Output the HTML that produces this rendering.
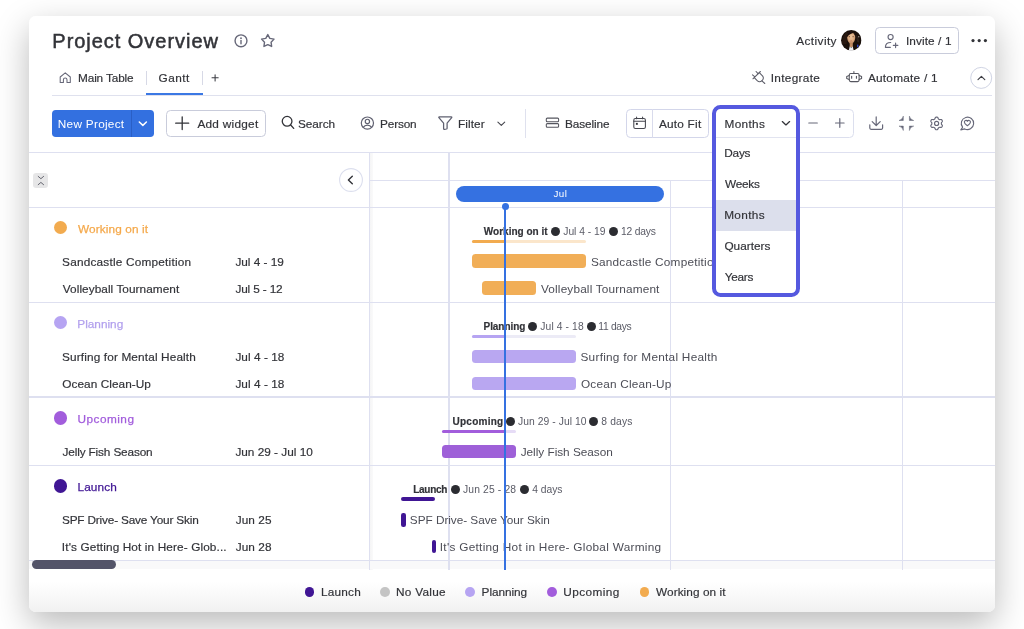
<!DOCTYPE html>
<html lang="en">
<head>
<meta charset="utf-8">
<title>Project Overview - Gantt</title>
<style>
*{box-sizing:border-box;margin:0;padding:0}
html,body{width:1024px;height:629px;overflow:hidden;background:#fff}
body{position:relative;font-family:"Liberation Sans",sans-serif;color:#323338}
.abs{position:absolute}
.card{position:absolute;left:29px;top:16px;width:966px;height:595.6px;border-radius:7px;background:linear-gradient(to bottom,#fff 0,#fff 566px,#f1f1f1 100%);box-shadow:0 12px 34px rgba(0,0,0,.275)}
.t{position:absolute;height:20px;line-height:20px;white-space:nowrap;font-size:12px;-webkit-text-stroke:.18px currentColor}
.hl{position:absolute;height:1.3px;background:#dee0f0}
.vl{position:absolute;width:1.3px;background:#dee0f0}
svg{position:absolute;overflow:visible}
.ic{fill:none;stroke:#676879;stroke-width:1.15;stroke-linecap:round;stroke-linejoin:round}
.icd{fill:none;stroke:#323338;stroke-width:1.3;stroke-linecap:round;stroke-linejoin:round}
.dot{position:absolute;border-radius:50%}
.bar{position:absolute;border-radius:3.5px}
.ul{position:absolute;height:3.3px;border-radius:2px}
.sep{position:absolute;width:1px;background:#d7d9e6}
</style>
</head>
<body>
<div class="card"></div>

<!-- ===== header ===== -->
<svg style="left:0;top:0" width="1024" height="160" viewBox="0 0 1024 160">
  <!-- info -->
  <circle class="ic" style="stroke-width:1.4" cx="241" cy="40.8" r="5.95"/>
  <path class="ic" style="stroke-width:1.4" d="M241 40.4v3.4"/>
  <circle cx="241" cy="38.2" r=".9" fill="#676879"/>
  <!-- star -->
  <path class="ic" style="stroke-width:1.4" d="M267.80 34.60L269.83 38.36L274.03 39.13L271.08 42.22L271.65 46.45L267.80 44.60L263.95 46.45L264.52 42.22L261.57 39.13L265.77 38.36z"/>
  <!-- home -->
  <path class="ic" style="stroke-width:1.05" d="M60.2 77v5.4h3.2v-2.6a1.8 1.8 0 0 1 3.6 0v2.6h3.3V77l-5.05-4.1z"/>
  <!-- tab plus -->
  <path class="icd" style="stroke-width:1.05;stroke:#3c3d44" d="M212 77.8h6.2M215.1 74.7v6.2"/>
  <!-- invite icon -->
  <circle class="ic" cx="890.6" cy="37" r="2.55"/>
  <path class="ic" d="M890.4 47.3h-5c0-3 2.2-4.8 5.3-4.8M895.6 43v4.6M893.3 45.3h4.6"/>
  <!-- more dots -->
  <circle cx="973" cy="40.6" r="1.6" fill="#323338"/><circle cx="979.2" cy="40.6" r="1.6" fill="#323338"/><circle cx="985.4" cy="40.6" r="1.6" fill="#323338"/>
  <!-- integrate (plug) -->
  <g class="ic" style="stroke-width:1.05;stroke:#5c5d68">
    <path d="M752.9 78.8L760.4 71.5"/>
    <path d="M759.3 72.7L762.7 76.1Q764.3 78.5 762 80.7Q759.5 82.9 757.2 80.7L754.3 77.6"/>
    <path d="M761.9 80.8l2.9 2.7M758 73.6l-1.9-2.1M754.6 76.7l-2.1-1.8"/>
  </g>
  <!-- automate (robot) -->
  <g class="ic" style="stroke-width:1.05;stroke:#55565f">
    <rect x="849.25" y="73.45" width="9.85" height="8.15" rx="1.5"/>
    <path d="M853.9 71.5v1.9M849.2 75.4l-2.5 1v2.2l2.5 1M859.1 75.4l2.5 1v2.2l-2.5 1"/>
    <path d="M851.65 76.2v2.1M856.45 76.2v2.1" stroke-width="1.15"/>
  </g>
  <!-- collapse circle -->
  <circle cx="981.2" cy="77.9" r="10.5" fill="#fff" stroke="#d0d4e4" stroke-width="1"/>
  <path class="icd" style="stroke-width:1.15;stroke:#3e3f46" d="M978 79.7l3.4-3.3 3.4 3.3"/>
  <!-- New Project chevron -->
</svg>

<!-- avatar -->
<svg style="left:840.9px;top:30.4px" width="20.5" height="20.5" viewBox="0 0 20.5 20.5">
  <defs>
    <clipPath id="avc"><circle cx="10.25" cy="10.25" r="10.2"/></clipPath>
    <filter id="avb" x="-20%" y="-20%" width="140%" height="140%"><feGaussianBlur stdDeviation=".45"/></filter>
    <radialGradient id="avs" cx="50%" cy="42%" r="60%"><stop offset="0" stop-color="#ecc39b"/><stop offset=".6" stop-color="#dcab80"/><stop offset="1" stop-color="#b07a55"/></radialGradient>
  </defs>
  <g clip-path="url(#avc)">
    <rect width="20.5" height="20.5" fill="#190f0a"/>
    <g filter="url(#avb)">
      <path d="M1 14C1.500 6 4 2.500 6.500 2L5.500 14z" fill="#3a2515" opacity=".5"/>
      <path d="M15 4.500c2 1.500 3 4.500 3 8l-2-1z" fill="#4a3a30" opacity=".4"/>
      <rect x="8.700" y="12" width="3.100" height="5" fill="#c08a62"/>
      <path d="M7.600 21l1.100-4.600 1.500 1.300 1.500-1.300 1.100 4.600z" fill="#eceef3"/>
      <path d="M10.200 1.700c2.600 0 4.100 2.200 4.100 5.300 0 3.400-1.900 6.800-4.100 6.800s-4.100-3.400-4.100-6.800c0-3.100 1.500-5.300 4.100-5.300z" fill="url(#avs)"/>
      <path d="M5.800 7.500c0-4 1.700-6.300 4.400-6.300s4.400 2.300 4.400 6.300c-.5-2.300-1.500-4-2.600-4.600-1 .6-4.200 1.300-6.200 4.600z" fill="#1b100a"/>
      <ellipse cx="8.300" cy="6.700" rx=".8" ry=".45" fill="#4a2e20"/>
      <ellipse cx="12.100" cy="6.700" rx=".8" ry=".45" fill="#4a2e20"/>
      <ellipse cx="10.200" cy="10.900" rx="1.300" ry=".45" fill="#b5634f"/>
      <rect x="16.100" y="14.600" width="1.300" height="2.700" rx=".5" fill="#2f46d6"/>
      <circle cx="17.700" cy="6.800" r=".7" fill="#9a8f86"/>
    </g>
  </g>
</svg>

<!-- invite button -->
<div class="abs" style="left:875.4px;top:27.3px;width:83.3px;height:26.8px;border:1px solid #c9ccdb;border-radius:4.5px"></div>

<!-- tabs line -->
<div class="hl" style="left:52px;top:94.5px;width:940px;height:1.2px;background:#dfe1ee"></div>
<div class="abs" style="left:146.3px;top:92.5px;width:56.4px;height:2.3px;background:#3b78e4"></div>
<div class="sep" style="left:146.3px;top:71.2px;height:13.6px"></div>
<div class="sep" style="left:202.2px;top:71.2px;height:13.6px"></div>

<!-- ===== toolbar ===== -->
<div class="abs" style="left:52px;top:109.9px;width:102px;height:26.7px;border-radius:3.8px;background:#3370e0"></div>
<div class="abs" style="left:130.6px;top:109.9px;width:1px;height:26.7px;background:#2a5fc6"></div>
<div class="abs" style="left:166px;top:109.9px;width:99.8px;height:26.7px;border:1px solid #c9ccdb;border-radius:4.5px"></div>
<div class="abs" style="left:524.6px;top:109px;width:1.1px;height:28.5px;background:#dfe1ee"></div>
<!-- auto fit box -->
<div class="abs" style="left:626.3px;top:108.9px;width:82.9px;height:28.8px;border:1px solid #d3d6ea;border-radius:4.5px"></div>
<div class="abs" style="left:652.4px;top:109px;width:1px;height:28.5px;background:#d9dbec"></div>
<!-- zoom box -->
<div class="abs" style="left:712px;top:108.9px;width:142px;height:28.8px;border:1px solid #dcdfee;border-radius:4.5px"></div>

<svg style="left:0;top:100px" width="1024" height="45" viewBox="0 100 1024 45">
  <path d="M139.3 122l3.55 3.4 3.55-3.4" fill="none" stroke="#fff" stroke-width="1.5" stroke-linecap="round" stroke-linejoin="round"/>
  <path class="icd" style="stroke-width:1.3" d="M175.7 123.2h13M182.2 116.8v12.8"/>
  <!-- search -->
  <circle class="icd" style="stroke-width:1.3" cx="287.1" cy="121.3" r="4.85"/>
  <path class="icd" style="stroke-width:1.3" d="M290.7 125l3 3.4"/>
  <!-- person -->
  <g class="ic" style="stroke-width:1.2;stroke:#5f6070"><circle cx="367.4" cy="123.1" r="6.1"/><circle cx="367.4" cy="121.4" r="2.15"/><path d="M363.2 127.4c1-1.6 2.5-2.3 4.2-2.3s3.2.7 4.2 2.3"/></g>
  <!-- filter -->
  <path class="ic" style="stroke-width:1.25;stroke:#5f6070" d="M439.2 116.8h12.1c.5 0 .7.5.4.9l-4.6 5.4v5.1c0 .4-.3.7-.7.8l-1.9.4c-.5.1-.9-.2-.9-.7v-5.6l-4.7-5.4c-.3-.4-.1-.9.3-.9z"/>
  <path class="icd" style="stroke-width:1.1;stroke:#44454d" d="M497.9 122.2l3.4 3.2 3.4-3.2"/>
  <!-- baseline -->
  <g class="ic" style="stroke-width:1.05;stroke:#55565f"><rect x="546.3" y="118.1" width="12.3" height="3.7" rx="1"/><rect x="546.3" y="123.6" width="12.3" height="3.7" rx="1"/></g>
  <!-- calendar -->
  <g class="ic" style="stroke-width:1.05;stroke:#45464e"><rect x="633.8" y="118.5" width="11.6" height="10" rx="1.6"/><path d="M633.8 121.2h11.6M636.6 116.9v1.8M642.6 116.9v1.8"/><rect x="635.9" y="122.9" width="1.9" height="1.9" fill="#323338" stroke="none"/></g>
  <!-- minus plus -->
  <path class="ic" style="stroke-width:1.2" d="M808.8 123h8.5M835.5 123h8.6M839.8 118.7v8.6"/>
  <!-- download -->
  <path class="ic" style="stroke-width:1.2" d="M876.2 116.9v8.4M872.2 121.6l4 3.9 4-3.9M869.8 124.8v3.3a1.2 1.2 0 0 0 1.2 1.2h10.4a1.2 1.2 0 0 0 1.2-1.2v-3.3"/>
  <!-- collapse arrows -->
  <g fill="#676879" stroke="#676879" stroke-width=".5" stroke-linejoin="round"><path d="M903.3 116.1V120.5H899Q902.5 119.7 903.3 116.1zM909.4 116.1V120.5H913.7Q910.2 119.7 909.4 116.1zM903.3 130.5V126.1H899Q902.5 126.9 903.3 130.5zM909.4 130.5V126.1H913.7Q910.2 126.9 909.4 130.5z"/></g>
  <!-- gear -->
  <g class="ic" style="stroke-width:1.15"><circle cx="936.6" cy="123.45" r="2.05"/>
  <path d="M936.60 117.12L937.01 117.15L937.42 117.25L937.78 117.52L938.04 118.09L938.23 118.66L938.45 118.97L938.72 119.16L938.99 119.32L939.26 119.47L939.55 119.61L939.93 119.65L940.52 119.53L941.14 119.47L941.56 119.64L941.85 119.94L942.08 120.28L942.27 120.66L942.38 121.06L942.32 121.51L941.96 122.01L941.56 122.46L941.40 122.82L941.37 123.14L941.37 123.45L941.37 123.76L941.40 124.08L941.56 124.44L941.96 124.89L942.32 125.39L942.38 125.84L942.27 126.24L942.08 126.61L941.85 126.96L941.56 127.26L941.14 127.43L940.52 127.37L939.93 127.25L939.55 127.29L939.26 127.43L938.99 127.58L938.72 127.74L938.45 127.93L938.23 128.24L938.04 128.81L937.78 129.38L937.42 129.65L937.01 129.75L936.60 129.78L936.19 129.75L935.78 129.65L935.42 129.38L935.16 128.81L934.97 128.24L934.75 127.93L934.48 127.74L934.22 127.58L933.94 127.43L933.65 127.29L933.27 127.25L932.68 127.37L932.06 127.43L931.64 127.26L931.35 126.96L931.12 126.62L930.93 126.24L930.82 125.84L930.88 125.39L931.24 124.89L931.64 124.44L931.80 124.08L931.83 123.76L931.83 123.45L931.83 123.14L931.80 122.82L931.64 122.46L931.24 122.01L930.88 121.51L930.82 121.06L930.93 120.66L931.12 120.28L931.35 119.94L931.64 119.64L932.06 119.47L932.68 119.53L933.27 119.65L933.65 119.61L933.94 119.47L934.22 119.32L934.48 119.16L934.75 118.97L934.97 118.66L935.16 118.09L935.42 117.52L935.78 117.25L936.19 117.15z"/></g>
  <!-- chat heart -->
  <g class="ic" style="stroke-width:1.1"><path d="M962.6 127.2a6.2 6.2 0 1 1 2.1 1.7l-3.9 1z"/><path d="M967.4 125.8c-1.6-1.1-3.1-2.2-3.1-3.7a1.65 1.65 0 0 1 3.1-.8 1.65 1.65 0 0 1 3.1.8c0 1.5-1.500 2.600-3.100 3.700z"/></g>
</svg>

<!-- ===== grid ===== -->
<div class="abs" style="left:369.8px;top:152.5px;width:3.6px;height:417px;background:linear-gradient(to right,#f5f5f6,#fafafa)"></div>
<div class="hl" style="left:29px;top:151.95px;width:966px"></div>
<div class="hl" style="left:369px;top:179.7px;width:626px"></div>
<div class="hl" style="left:29px;top:206.65px;width:966px"></div>
<div class="hl" style="left:29px;top:301.65px;width:966px"></div>
<div class="hl" style="left:29px;top:396.3px;width:966px"></div>
<div class="hl" style="left:29px;top:464.75px;width:966px"></div>
<div class="abs" style="left:29px;top:560.2px;width:966px;height:9.3px;background:#f9f9fa"></div>
<div class="hl" style="left:29px;top:559.6px;width:966px"></div>
<div class="vl" style="left:368.7px;top:152px;height:417.5px"></div>
<div class="vl" style="left:448.4px;top:152px;height:417.5px"></div>
<div class="vl" style="left:670.1px;top:180px;height:389.5px"></div>
<div class="vl" style="left:902.1px;top:180px;height:389.5px"></div>
<!-- scrollbar -->
<div class="abs" style="left:32.3px;top:560.2px;width:83.7px;height:9.3px;border-radius:5px;background:#535469"></div>

<!-- collapse-all -->
<div class="abs" style="left:33.4px;top:172.7px;width:15px;height:15.2px;border-radius:3.2px;background:#e6e6e7"></div>
<svg style="left:30px;top:170px" width="24" height="22" viewBox="30 170 24 22"><path class="ic" style="stroke-width:.95;stroke:#5c5d67" d="M38.2 176.4l2.7 2.3 2.7-2.3M38.2 184.7l2.7-2.3 2.7 2.3"/></svg>
<!-- hide panel circle -->
<svg style="left:335px;top:165px" width="32" height="30" viewBox="335 165 32 30"><circle cx="351" cy="180" r="11.4" fill="#fff" stroke="#dcdfee" stroke-width="1.1"/><path class="icd" style="stroke-width:1.4" d="M352.3 176.2l-3.9 3.8 3.9 3.8"/></svg>

<!-- group dots -->
<div class="dot" style="left:53.6px;top:220.90px;width:13.6px;height:13.6px;background:#f2ab4f"></div>
<div class="dot" style="left:53.6px;top:315.90px;width:13.6px;height:13.6px;background:#b6a4f2"></div>
<div class="dot" style="left:53.6px;top:411.10px;width:13.6px;height:13.6px;background:#a25ddc"></div>
<div class="dot" style="left:53.6px;top:479.00px;width:13.6px;height:13.6px;background:#401694"></div>

<!-- ===== gantt ===== -->
<div class="abs" style="left:455.8px;top:186.2px;width:208px;height:15.4px;border-radius:8px;background:#3571e1"></div>
<!-- working on it -->
<div class="ul" style="left:472px;top:239.5px;width:114.3px;background:#fbe6cb"></div>
<div class="ul" style="left:472px;top:239.5px;width:34px;background:#f2ab4f"></div>
<div class="bar" style="left:472px;top:254.35px;width:114.3px;height:13.8px;background:#f1ae57"></div>
<div class="bar" style="left:482px;top:281.35px;width:53.8px;height:13.8px;background:#f1ae57"></div>
<div class="dot" style="left:551px;top:227.3px;width:9.1px;height:9.1px;background:#2b2c31"></div>
<div class="dot" style="left:609.2px;top:227.3px;width:9.1px;height:9.1px;background:#2b2c31"></div>
<!-- planning -->
<div class="ul" style="left:472px;top:334.6px;width:104px;background:#ecebf6"></div>
<div class="ul" style="left:472px;top:334.6px;width:34px;background:#b6a4f2"></div>
<div class="bar" style="left:472px;top:349.65px;width:104px;height:13.8px;background:#b9a7f1"></div>
<div class="bar" style="left:472px;top:376.65px;width:104px;height:13.8px;background:#b9a7f1"></div>
<div class="dot" style="left:528.2px;top:322.4px;width:9.1px;height:9.1px;background:#2b2c31"></div>
<div class="dot" style="left:586.6px;top:322.4px;width:9.1px;height:9.1px;background:#2b2c31"></div>
<!-- upcoming -->
<div class="ul" style="left:441.5px;top:429.6px;width:74.2px;background:#e6dcf6"></div>
<div class="ul" style="left:441.5px;top:429.6px;width:64.5px;background:#a25ddc"></div>
<div class="bar" style="left:441.5px;top:444.65px;width:74.2px;height:13.8px;background:#9e60d8"></div>
<div class="dot" style="left:506.2px;top:417.4px;width:9.1px;height:9.1px;background:#2b2c31"></div>
<div class="dot" style="left:589.4px;top:417.4px;width:9.1px;height:9.1px;background:#2b2c31"></div>
<!-- launch -->
<div class="ul" style="left:401.4px;top:497.3px;width:33.6px;background:#401694"></div>
<div class="bar" style="left:401.4px;top:512.85px;width:4.4px;height:13.8px;border-radius:2.2px;background:#401694"></div>
<div class="bar" style="left:431.9px;top:539.65px;width:4.4px;height:13.8px;border-radius:2.2px;background:#401694"></div>
<div class="dot" style="left:451px;top:485px;width:9.1px;height:9.1px;background:#2b2c31"></div>
<div class="dot" style="left:519.6px;top:485px;width:9.1px;height:9.1px;background:#2b2c31"></div>

<span class="t" style="left:553.39px;top:184.00px;font-size:9.8px;color:#ffffff;letter-spacing:0.483px;-webkit-text-stroke:0;">Jul</span>
<span class="t" style="left:483.81px;top:222.40px;font-size:10px;color:#323338;font-weight:700;letter-spacing:0.005px;">Working on it</span>
<span class="t" style="left:563.30px;top:222.40px;font-size:10.3px;color:#5a5b66;letter-spacing:-0.030px;-webkit-text-stroke:0;">Jul 4 - 19</span>
<span class="t" style="left:621.12px;top:222.40px;font-size:10.3px;color:#5a5b66;letter-spacing:-0.213px;-webkit-text-stroke:0;">12 days</span>
<span class="t" style="left:590.90px;top:251.60px;font-size:11.8px;color:#4c4d56;letter-spacing:0.229px;-webkit-text-stroke:0;">Sandcastle Competition</span>
<span class="t" style="left:540.99px;top:278.50px;font-size:11.8px;color:#4c4d56;letter-spacing:0.160px;-webkit-text-stroke:0;">Volleyball Tournament</span>
<span class="t" style="left:483.56px;top:317.40px;font-size:10px;color:#323338;font-weight:700;letter-spacing:-0.066px;">Planning</span>
<span class="t" style="left:540.33px;top:317.40px;font-size:10.3px;color:#5a5b66;letter-spacing:0.103px;-webkit-text-stroke:0;">Jul 4 - 18</span>
<span class="t" style="left:598.37px;top:317.40px;font-size:10.3px;color:#5a5b66;letter-spacing:-0.335px;-webkit-text-stroke:0;">11 days</span>
<span class="t" style="left:580.49px;top:346.50px;font-size:11.8px;color:#4c4d56;letter-spacing:0.262px;-webkit-text-stroke:0;">Surfing for Mental Health</span>
<span class="t" style="left:580.94px;top:373.60px;font-size:11.8px;color:#4c4d56;letter-spacing:0.198px;-webkit-text-stroke:0;">Ocean Clean-Up</span>
<span class="t" style="left:452.55px;top:412.30px;font-size:10px;color:#323338;font-weight:700;letter-spacing:0.243px;">Upcoming</span>
<span class="t" style="left:518.08px;top:412.30px;font-size:10.3px;color:#5a5b66;letter-spacing:0.068px;-webkit-text-stroke:0;">Jun 29 - Jul 10</span>
<span class="t" style="left:601.36px;top:412.30px;font-size:10.3px;color:#5a5b66;letter-spacing:0.147px;-webkit-text-stroke:0;">8 days</span>
<span class="t" style="left:520.69px;top:441.50px;font-size:11.8px;color:#4c4d56;letter-spacing:-0.020px;-webkit-text-stroke:0;">Jelly Fish Season</span>
<span class="t" style="left:413.24px;top:480.00px;font-size:10px;color:#323338;font-weight:700;letter-spacing:-0.275px;">Launch</span>
<span class="t" style="left:463.07px;top:480.00px;font-size:10.3px;color:#5a5b66;letter-spacing:0.144px;-webkit-text-stroke:0;">Jun 25 - 28</span>
<span class="t" style="left:532.25px;top:480.00px;font-size:10.3px;color:#5a5b66;letter-spacing:-0.017px;-webkit-text-stroke:0;">4 days</span>
<span class="t" style="left:409.86px;top:509.60px;font-size:11.8px;color:#4c4d56;letter-spacing:-0.044px;-webkit-text-stroke:0;">SPF Drive- Save Your Skin</span>
<span class="t" style="left:439.82px;top:536.60px;font-size:11.8px;color:#4c4d56;letter-spacing:0.282px;-webkit-text-stroke:0;">It's Getting Hot in Here- Global Warming</span>

<!-- today line -->
<div class="abs" style="left:504.4px;top:206px;width:2px;height:363.5px;background:#3571e1"></div>
<div class="dot" style="left:501.9px;top:203.3px;width:7px;height:7px;background:#3571e1"></div>

<!-- legend dots -->
<div class="dot" style="left:304.7px;top:587.1px;width:9.8px;height:9.8px;background:#401694"></div>
<div class="dot" style="left:380.1px;top:587.1px;width:9.8px;height:9.8px;background:#c4c4c4"></div>
<div class="dot" style="left:465.1px;top:587.1px;width:9.8px;height:9.8px;background:#b6a4f2"></div>
<div class="dot" style="left:547.2px;top:587.1px;width:9.8px;height:9.8px;background:#a25ddc"></div>
<div class="dot" style="left:639.6px;top:587.1px;width:9.8px;height:9.8px;background:#f2ab4f"></div>

<!-- ===== dropdown ===== -->
<div class="abs" style="left:712px;top:104.7px;width:87.7px;height:192.6px;border:4px solid #5559df;border-radius:8.5px;background:#fff"></div>
<div class="abs" style="left:716px;top:136.7px;width:79.7px;height:1.1px;background:#e2e4f0"></div>
<div class="abs" style="left:716px;top:199.8px;width:79.7px;height:30.8px;background:#dcdfec"></div>

<svg style="left:776px;top:116px" width="20" height="14" viewBox="776 116 20 14"><path class="icd" style="stroke-width:1.3" d="M782.3 121.6l3.65 3.3 3.65-3.3"/></svg>
<span class="t" style="left:52.35px;top:30.90px;font-size:20px;color:#323338;letter-spacing:0.963px;-webkit-text-stroke:0.5px #323338;">Project Overview</span>
<span class="t" style="left:78.06px;top:68.00px;font-size:11.8px;color:#323338;letter-spacing:-0.144px;">Main Table</span>
<span class="t" style="left:158.56px;top:68.00px;font-size:11.8px;color:#323338;letter-spacing:0.462px;">Gantt</span>
<span class="t" style="left:57.83px;top:113.70px;font-size:11.8px;color:#ffffff;letter-spacing:0.273px;-webkit-text-stroke:0;">New Project</span>
<span class="t" style="left:197.39px;top:113.70px;font-size:11.8px;color:#323338;letter-spacing:0.268px;">Add widget</span>
<span class="t" style="left:298.03px;top:113.70px;font-size:11.8px;color:#323338;letter-spacing:-0.044px;">Search</span>
<span class="t" style="left:380.06px;top:113.70px;font-size:11.8px;color:#323338;letter-spacing:-0.155px;">Person</span>
<span class="t" style="left:458.06px;top:113.70px;font-size:11.8px;color:#323338;letter-spacing:0.072px;">Filter</span>
<span class="t" style="left:565.06px;top:113.70px;font-size:11.8px;color:#323338;letter-spacing:-0.113px;">Baseline</span>
<span class="t" style="left:658.92px;top:113.70px;font-size:11.8px;color:#323338;letter-spacing:0.230px;">Auto Fit</span>
<span class="t" style="left:724.55px;top:113.70px;font-size:11.8px;color:#323338;letter-spacing:0.318px;">Months</span>
<span class="t" style="left:796.28px;top:31.00px;font-size:11.8px;color:#323338;letter-spacing:0.412px;">Activity</span>
<span class="t" style="left:905.88px;top:31.00px;font-size:11.8px;color:#323338;letter-spacing:0.109px;">Invite / 1</span>
<span class="t" style="left:770.76px;top:67.70px;font-size:11.8px;color:#323338;letter-spacing:0.319px;">Integrate</span>
<span class="t" style="left:867.92px;top:67.70px;font-size:11.8px;color:#323338;letter-spacing:0.246px;">Automate / 1</span>
<span class="t" style="left:724.29px;top:143.20px;font-size:11.8px;color:#323338;letter-spacing:-0.214px;">Days</span>
<span class="t" style="left:725.02px;top:174.20px;font-size:11.8px;color:#323338;letter-spacing:-0.249px;">Weeks</span>
<span class="t" style="left:724.22px;top:205.20px;font-size:11.8px;color:#323338;letter-spacing:0.324px;">Months</span>
<span class="t" style="left:724.39px;top:236.20px;font-size:11.8px;color:#323338;letter-spacing:0.020px;">Quarters</span>
<span class="t" style="left:724.67px;top:267.20px;font-size:11.8px;color:#323338;letter-spacing:-0.263px;">Years</span>
<span class="t" style="left:78.00px;top:218.90px;font-size:11.8px;color:#f5a94b;letter-spacing:0.124px;-webkit-text-stroke:.25px #f5a94b;">Working on it</span>
<span class="t" style="left:62.10px;top:251.90px;font-size:11.8px;color:#323338;letter-spacing:0.207px;">Sandcastle Competition</span>
<span class="t" style="left:235.39px;top:251.90px;font-size:11.8px;color:#323338;letter-spacing:-0.004px;">Jul 4 - 19</span>
<span class="t" style="left:62.83px;top:278.70px;font-size:11.8px;color:#323338;letter-spacing:0.061px;">Volleyball Tournament</span>
<span class="t" style="left:235.42px;top:278.70px;font-size:11.8px;color:#323338;letter-spacing:-0.144px;">Jul 5 - 12</span>
<span class="t" style="left:77.29px;top:313.90px;font-size:11.8px;color:#b3a1ee;letter-spacing:0.005px;-webkit-text-stroke:.25px #b3a1ee;">Planning</span>
<span class="t" style="left:62.09px;top:346.50px;font-size:11.8px;color:#323338;letter-spacing:0.136px;">Surfing for Mental Health</span>
<span class="t" style="left:235.39px;top:346.50px;font-size:11.8px;color:#323338;letter-spacing:0.055px;">Jul 4 - 18</span>
<span class="t" style="left:62.33px;top:373.60px;font-size:11.8px;color:#323338;letter-spacing:0.053px;">Ocean Clean-Up</span>
<span class="t" style="left:235.39px;top:373.60px;font-size:11.8px;color:#323338;letter-spacing:0.055px;">Jul 4 - 18</span>
<span class="t" style="left:77.46px;top:408.70px;font-size:11.8px;color:#a25ddc;letter-spacing:0.486px;-webkit-text-stroke:.25px #a25ddc;">Upcoming</span>
<span class="t" style="left:62.55px;top:441.50px;font-size:11.8px;color:#323338;letter-spacing:-0.145px;">Jelly Fish Season</span>
<span class="t" style="left:235.39px;top:441.50px;font-size:11.8px;color:#323338;letter-spacing:0.007px;">Jun 29 - Jul 10</span>
<span class="t" style="left:77.46px;top:477.00px;font-size:11.8px;color:#401694;letter-spacing:0.116px;-webkit-text-stroke:.25px #401694;">Launch</span>
<span class="t" style="left:61.99px;top:509.60px;font-size:11.8px;color:#323338;letter-spacing:-0.174px;">SPF Drive- Save Your Skin</span>
<span class="t" style="left:235.67px;top:509.60px;font-size:11.8px;color:#323338;letter-spacing:0.078px;">Jun 25</span>
<span class="t" style="left:61.86px;top:536.60px;font-size:11.8px;color:#323338;letter-spacing:0.120px;">It's Getting Hot in Here- Glob...</span>
<span class="t" style="left:235.67px;top:536.60px;font-size:11.8px;color:#323338;letter-spacing:0.081px;">Jun 28</span>
<span class="t" style="left:321.06px;top:582.00px;font-size:11.8px;color:#323338;letter-spacing:0.205px;">Launch</span>
<span class="t" style="left:396.07px;top:582.00px;font-size:11.8px;color:#323338;letter-spacing:0.269px;">No Value</span>
<span class="t" style="left:481.62px;top:582.00px;font-size:11.8px;color:#323338;letter-spacing:-0.054px;">Planning</span>
<span class="t" style="left:563.22px;top:582.00px;font-size:11.8px;color:#323338;letter-spacing:0.418px;">Upcoming</span>
<span class="t" style="left:656.01px;top:582.00px;font-size:11.8px;color:#323338;letter-spacing:0.078px;">Working on it</span>
</body>
</html>
